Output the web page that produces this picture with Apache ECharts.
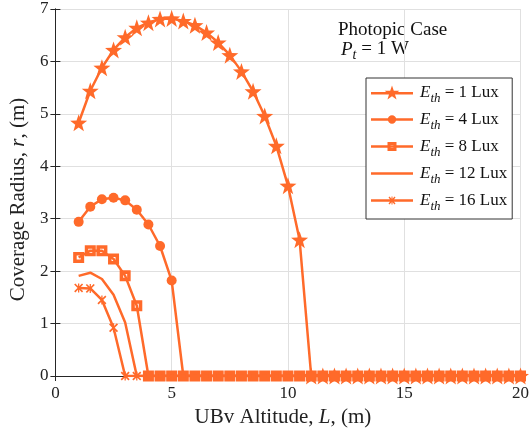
<!DOCTYPE html>
<html><head><meta charset="utf-8">
<script src="https://cdn.jsdelivr.net/npm/echarts@6/dist/echarts.min.js"></script>
<style>html,body{margin:0;padding:0;background:#fff}#c{width:532px;height:434px}</style>
</head><body><div id="c"></div>
<script>
const altitude = [1,1.5,2,2.5,3,3.5,4,4.5,5,5.5,6,6.5,7,7.5,8,8.5,9,9.5,10,10.5,11,11.5,12,12.5,13,13.5,14,14.5,15,15.5,16,16.5,17,17.5,18,18.5,19,19.5,20];
const r1Lux  = [4.83,5.44,5.88,6.22,6.46,6.64,6.74,6.81,6.82,6.77,6.69,6.55,6.36,6.12,5.81,5.43,4.96,4.39,3.63,2.60,0,0,0,0,0,0,0,0,0,0,0,0,0,0,0,0,0,0,0];
const r4Lux  = [2.94,3.23,3.37,3.40,3.35,3.17,2.89,2.48,1.82,0,0,0,0,0,0,0,0,0,0,0,0,0,0,0,0,0,0,0,0,0,0,0,0,0,0,0,0,0,0];
const r8Lux  = [2.26,2.39,2.39,2.23,1.91,1.34,0,0,0,0,0,0,0,0,0,0,0,0,0,0,0,0,0,0,0,0,0,0,0,0,0,0,0,0,0,0,0,0,0];
const r12Lux = [1.91,1.97,1.85,1.55,1.02,0,0,0,0,0,0,0,0,0,0,0,0,0,0,0,0,0,0,0,0,0,0,0,0,0,0,0,0,0,0,0,0,0,0];
const r16Lux = [1.68,1.67,1.45,0.92,0,0,0,0,0,0,0,0,0,0,0,0,0,0,0,0,0,0,0,0,0,0,0,0,0,0,0,0,0,0,0,0,0,0,0];
const xTicks = [0,5,10,15,20];
const yTicks = [0,1,2,3,4,5,6,7];
const legendNames = ['{i|E}{s|th} = 1 Lux','{i|E}{s|th} = 4 Lux','{i|E}{s|th} = 8 Lux','{i|E}{s|th} = 12 Lux','{i|E}{s|th} = 16 Lux'];

const C = '#ff6a2a';
const FONT = 'Liberation Serif';
function starPts(cx, cy, R){
  let p='';
  for(let k=0;k<10;k++){
    const a=-Math.PI/2+k*Math.PI/5, rr=(k%2===0)?R:R*0.4;
    p+=(k===0?'M':'L')+(cx+rr*Math.cos(a)).toFixed(2)+','+(cy+rr*Math.sin(a)).toFixed(2)+' ';
  }
  return p+'Z ';
}
const starPath = 'path://'+starPts(10,10,10);
const squarePath = 'path://M0,0 L10,0 L10,10 L0,10 Z M3.2,3.2 L3.2,6.8 L6.8,6.8 L6.8,3.2 Z';
const asteriskPath = 'path://M0,1.3 L1.3,0 L10,8.7 L8.7,10 Z M8.7,0 L10,1.3 L1.3,10 L0,8.7 Z M4.3,0 L5.7,0 L5.7,10 L4.3,10 Z';
// legend icons: line (42 wide) + marker, drawn in a 42x14 box
function lineRect(cy){ return 'M0,'+(cy-1.25)+' L42,'+(cy-1.25)+' L42,'+(cy+1.25)+' L0,'+(cy+1.25)+' Z '; }
const legIcons = [
  'path://'+lineRect(7.7)+starPts(21,7.7,7.7),
  'path://'+lineRect(7)+'M25.2,7 A4.2,4.2 0 1 1 16.8,7 A4.2,4.2 0 1 1 25.2,7 Z',
  'path://'+lineRect(7)+'M16.5,2.5 L25.5,2.5 L25.5,11.5 L16.5,11.5 Z M19.6,5.6 L19.6,8.4 L22.4,8.4 L22.4,5.6 Z',
  'path://'+lineRect(7),
  'path://'+lineRect(7)+'M17.5,3.9 L18.5,3 L24.5,10.1 L23.5,11 Z M23.5,3 L24.5,3.9 L18.5,11 L17.5,10.1 Z M20.5,3 L21.5,3 L21.5,11 L20.5,11 Z'
];
function pairs(ys){ return altitude.map((x,i)=>[x,ys[i]]); }

const chart = echarts.init(document.getElementById('c'), null, {renderer:'canvas'});
const rich = {i:{fontStyle:'italic',fontFamily:FONT,fontSize:17,color:'#111'}, s:{fontStyle:'italic',fontFamily:FONT,fontSize:13,color:'#111',padding:[12,0,0,0]}};
function mk(name, data, symbol, size, z){
  return {name, type:'line', data:pairs(data), symbol, symbolSize:size, showSymbol: symbol!=='none',
    lineStyle:{color:C,width:2.5}, itemStyle:{color:C}, z, animation:false, emphasis:{disabled:true}};
}
const axisNameStyle = (pad)=>({fontFamily:FONT,fontSize:21,color:'#222',padding:pad,
  rich:{i:{fontStyle:'italic',fontFamily:FONT,fontSize:21,color:'#222'}}});
chart.setOption({
  animation:false,
  grid:{left:53.5,right:8.5,top:9,bottom:58,containLabel:false},
  xAxis:[{type:'value',min:0,max:20,interval:5,
    name:'UBv Altitude, {i|L}, (m)',nameLocation:'middle',nameGap:29,
    nameTextStyle:axisNameStyle([0,10,0,0]),
    axisLine:{lineStyle:{color:'#262626',width:1}},axisTick:{inside:true,length:5,lineStyle:{color:'#262626'}},
    axisLabel:{fontFamily:FONT,fontSize:17,color:'#222',margin:9},
    splitLine:{show:true,lineStyle:{color:'#e0e0e0',width:1}}},
    {type:'value',position:'top',min:0,max:20,interval:5,axisLine:{show:true,lineStyle:{color:'#262626'}},
    axisTick:{inside:true,length:5,lineStyle:{color:'#262626'}},axisLabel:{show:false},splitLine:{show:false}}],
  yAxis:[{type:'value',min:0,max:7,interval:1,
    name:'Coverage Radius, {i|r}, (m)',nameLocation:'middle',nameGap:26,
    nameTextStyle:axisNameStyle([0,14,0,0]),
    axisLine:{show:true,lineStyle:{color:'#262626'}},axisTick:{show:true,inside:true,length:5,lineStyle:{color:'#262626'}},
    axisLabel:{fontFamily:FONT,fontSize:17,color:'#222',margin:7},
    splitLine:{show:true,lineStyle:{color:'#e0e0e0',width:1}}},
    {type:'value',position:'right',min:0,max:7,interval:1,axisLine:{show:true,lineStyle:{color:'#262626'}},
    axisTick:{show:true,inside:true,length:5,lineStyle:{color:'#262626'}},axisLabel:{show:false},splitLine:{show:false}}],
  legend:{data:legendNames.map((n,k)=>({name:n,icon:legIcons[k]})),orient:'vertical',left:366,top:78,width:148,
    padding:[6,5,6,5],itemGap:6,itemWidth:42,itemHeight:14,symbolKeepAspect:true,
    backgroundColor:'#fff',borderColor:'#333',borderWidth:1,borderRadius:0,
    itemStyle:{borderWidth:0},
    textStyle:{fontFamily:FONT,fontSize:17,color:'#111',padding:[0,0,0,2],rich:rich}},
  graphic:[
    {type:'text',left:338,top:21,style:{text:'Photopic Case',font:'19px "Liberation Serif"',fill:'#111'}},
    {type:'text',left:341,top:40,style:{text:'{i|P}{s|t} = 1 W',fill:'#111',font:'19px "Liberation Serif"',
      rich:{i:{fontStyle:'italic',fontFamily:FONT,fontSize:19,fill:'#111'},s:{fontStyle:'italic',fontFamily:FONT,fontSize:14,padding:[12,0,0,0]}}}}
  ],
  series:[
    mk(legendNames[4], r16Lux, asteriskPath, 9, 2),
    mk(legendNames[3], r12Lux, 'none', 0, 3),
    mk(legendNames[1], r4Lux, 'circle', 10, 4),
    mk(legendNames[2], r8Lux, squarePath, 11, 5),
    mk(legendNames[0], r1Lux, starPath, 17, 6)
  ]
});
</script></body></html>
